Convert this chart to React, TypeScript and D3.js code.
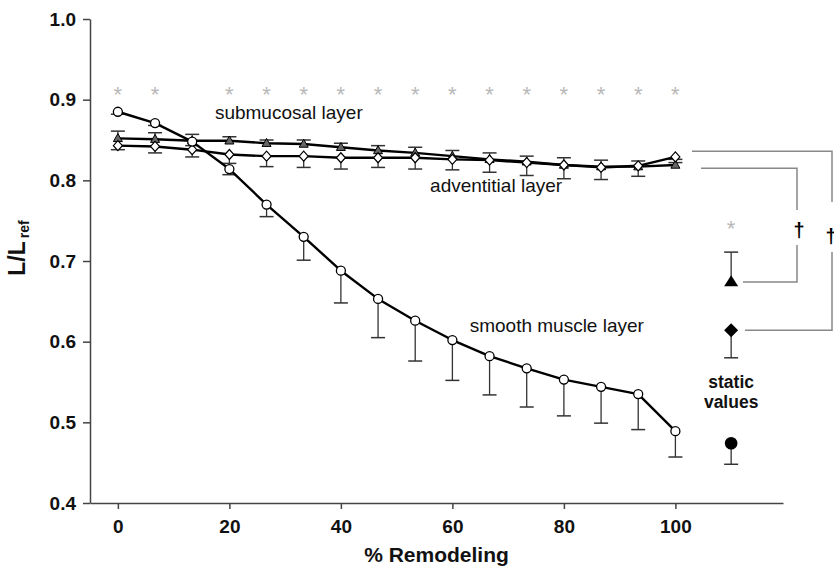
import * as d3 from 'd3';
import {useEffect, useRef} from "react";

// % remodeling steps
const remodeling = [0, 6.67, 13.33, 20, 26.67, 33.33, 40, 46.67, 53.33, 60, 66.67, 73.33, 80, 86.67, 93.33, 100];

const smoothMuscle = [0.885, 0.871, 0.848, 0.814, 0.770, 0.730, 0.688, 0.653, 0.626, 0.602, 0.582, 0.567, 0.553, 0.544, 0.535, 0.489];
const smoothMuscleErr = [0.003, 0.003, 0.005, 0.007, 0.015, 0.029, 0.040, 0.048, 0.050, 0.050, 0.048, 0.048, 0.045, 0.045, 0.044, 0.032];

const submucosal = [0.852, 0.851, 0.849, 0.849, 0.846, 0.845, 0.841, 0.837, 0.834, 0.830, 0.826, 0.823, 0.819, 0.817, 0.817, 0.819];
const submucosalErr = [0.009, 0.008, 0.008, 0.005, 0.004, 0.005, 0.005, 0.006, 0.007, 0.007, 0.008, 0.007, 0.009, 0.008, 0.007, 0.003];

const adventitial = [0.843, 0.842, 0.838, 0.832, 0.830, 0.830, 0.828, 0.828, 0.828, 0.826, 0.825, 0.822, 0.819, 0.816, 0.818, 0.829];
const adventitialErr = [0.005, 0.008, 0.009, 0.011, 0.013, 0.014, 0.014, 0.012, 0.014, 0.013, 0.015, 0.016, 0.017, 0.015, 0.013, 0.003];

// static values (drawn at x = 110)
const staticX = 110;
const staticSubmucosal = 0.674;
const staticSubmucosalErr = 0.037;
const staticAdventitial = 0.614;
const staticAdventitialErr = 0.034;
const staticSmooth = 0.474;
const staticSmoothErr = 0.026;

// significance markers
const starIndices = [0, 1, 3, 4, 5, 6, 7, 8, 9, 10, 11, 12, 13, 14, 15];
const starLevel = 0.912;
const staticStarLevel = 0.746;

const xTicks = [0, 20, 40, 60, 80, 100];
const yTicks = [0.4, 0.5, 0.6, 0.7, 0.8, 0.9, 1.0];

const FONT = "'Liberation Sans', Arial, sans-serif";

export default function App() {
    const svgRef = useRef<SVGSVGElement | null>(null);

    useEffect(() => {
        const W = 834, H = 570;
        const svg = d3.select(svgRef.current)
            .attr("width", W)
            .attr("height", H)
            .html("");

        const x = d3.scaleLinear().domain([-5, 119.3]).range([90, 783]);
        const y = d3.scaleLinear().domain([0.4, 1.0]).range([503, 19]);

        const axisColor = "#444";

        // y axis
        const gy = svg.append("g")
            .attr("transform", `translate(${x(-5)},0)`)
            .call(d3.axisLeft(y).tickValues(yTicks).tickFormat(d3.format(".1f"))
                .tickSize(7).tickSizeOuter(0).tickPadding(7));
        gy.selectAll("path, line").attr("stroke", axisColor).attr("stroke-width", 1.5);
        gy.selectAll("text").attr("font-family", FONT).attr("font-size", 19)
            .attr("font-weight", "bold").attr("fill", "#111");

        // x axis
        const gx = svg.append("g")
            .attr("transform", `translate(0,${y(0.4)})`)
            .call(d3.axisBottom(x).tickValues(xTicks).tickFormat(d3.format("d"))
                .tickSize(6).tickSizeOuter(0).tickPadding(10.5));
        gx.selectAll("path, line").attr("stroke", axisColor).attr("stroke-width", 1.5);
        gx.selectAll("text").attr("font-family", FONT).attr("font-size", 19)
            .attr("font-weight", "bold").attr("fill", "#111");

        // axis titles
        svg.append("text")
            .attr("x", (x(-5) + x(119.3)) / 2)
            .attr("y", 562)
            .attr("text-anchor", "middle")
            .attr("font-family", FONT).attr("font-size", 21).attr("font-weight", "bold")
            .attr("fill", "#111")
            .text("% Remodeling");

        const yt = svg.append("text")
            .attr("transform", `translate(25,248) rotate(-90)`)
            .attr("text-anchor", "middle")
            .attr("font-family", FONT).attr("font-weight", "bold").attr("fill", "#111");
        yt.append("tspan").attr("font-size", 23).text("L/L");
        yt.append("tspan").attr("font-size", 14).attr("dx", 3).attr("dy", 4).text("ref");

        const errColor = "#333";
        const cap = 7;
        const drawErr = (cx: number, from: number, to: number) => {
            svg.append("line")
                .attr("x1", x(cx)).attr("x2", x(cx))
                .attr("y1", y(from)).attr("y2", y(to))
                .attr("stroke", errColor).attr("stroke-width", 1.3);
            svg.append("line")
                .attr("x1", x(cx) - cap).attr("x2", x(cx) + cap)
                .attr("y1", y(to)).attr("y2", y(to))
                .attr("stroke", errColor).attr("stroke-width", 1.5);
        };

        // error bars: smooth muscle and adventitial downward, submucosal upward
        remodeling.forEach((r, i) => {
            drawErr(r, smoothMuscle[i], smoothMuscle[i] - smoothMuscleErr[i]);
            drawErr(r, adventitial[i], adventitial[i] - adventitialErr[i]);
            drawErr(r, submucosal[i], submucosal[i] + submucosalErr[i]);
        });

        const line = d3.line<number>()
            .x((_, i) => x(remodeling[i]))
            .y(d => y(d));

        [submucosal, adventitial, smoothMuscle].forEach(series => {
            svg.append("path")
                .attr("d", line(series))
                .attr("fill", "none")
                .attr("stroke", "#000")
                .attr("stroke-width", 2.4)
                .attr("stroke-linejoin", "round");
        });

        const triPath = (w: number, h: number) =>
            `M0,${-h * 0.6}L${w / 2},${h * 0.4}L${-w / 2},${h * 0.4}Z`;
        const diaPath = (w: number, h: number) =>
            `M0,${-h / 2}L${w / 2},0L0,${h / 2}L${-w / 2},0Z`;

        // markers
        svg.selectAll(".tri")
            .data(submucosal)
            .enter().append("path")
            .attr("transform", (d, i) => `translate(${x(remodeling[i])},${y(d)})`)
            .attr("d", triPath(9, 8))
            .attr("fill", "#666").attr("stroke", "#000").attr("stroke-width", 1);

        svg.selectAll(".dia")
            .data(adventitial)
            .enter().append("path")
            .attr("transform", (d, i) => `translate(${x(remodeling[i])},${y(d)})`)
            .attr("d", diaPath(9, 10))
            .attr("fill", "#fff").attr("stroke", "#000").attr("stroke-width", 1.2);

        svg.selectAll(".circ")
            .data(smoothMuscle)
            .enter().append("circle")
            .attr("cx", (_, i) => x(remodeling[i]))
            .attr("cy", d => y(d))
            .attr("r", 4.5)
            .attr("fill", "#fff").attr("stroke", "#000").attr("stroke-width", 1.3);

        // static values
        drawErr(staticX, staticSubmucosal, staticSubmucosal + staticSubmucosalErr);
        drawErr(staticX, staticAdventitial, staticAdventitial - staticAdventitialErr);
        drawErr(staticX, staticSmooth, staticSmooth - staticSmoothErr);

        svg.append("path")
            .attr("transform", `translate(${x(staticX)},${y(staticSubmucosal)})`)
            .attr("d", triPath(14, 11)).attr("fill", "#000");
        svg.append("path")
            .attr("transform", `translate(${x(staticX)},${y(staticAdventitial)})`)
            .attr("d", diaPath(14, 14)).attr("fill", "#000");
        svg.append("circle")
            .attr("cx", x(staticX)).attr("cy", y(staticSmooth)).attr("r", 6.3)
            .attr("fill", "#000");

        const sv = svg.append("text")
            .attr("text-anchor", "middle")
            .attr("font-family", FONT).attr("font-size", 17.5).attr("font-weight", "bold")
            .attr("fill", "#111");
        sv.append("tspan").attr("x", x(staticX)).attr("y", 388).text("static");
        sv.append("tspan").attr("x", x(staticX)).attr("y", 408).text("values");

        // asterisks
        const starColor = "#b8b8b8";
        starIndices.forEach(i => {
            svg.append("text")
                .attr("x", x(remodeling[i]))
                .attr("y", y(starLevel) + 12.5)
                .attr("text-anchor", "middle")
                .attr("font-family", FONT).attr("font-size", 22)
                .attr("fill", starColor)
                .text("*");
        });
        svg.append("text")
            .attr("x", x(staticX))
            .attr("y", y(staticStarLevel) + 12.5)
            .attr("text-anchor", "middle")
            .attr("font-family", FONT).attr("font-size", 22)
            .attr("fill", starColor)
            .text("*");

        // brackets
        const brColor = "#888";
        const bracket = (xTop: number, top: number, xBottom: number, bottom: number,
                         xV: number, gapTop: number, gapBottom: number) => {
            const p = d3.path();
            p.moveTo(xTop, top); p.lineTo(xV, top); p.lineTo(xV, gapTop);
            p.moveTo(xV, gapBottom); p.lineTo(xV, bottom); p.lineTo(xBottom, bottom);
            svg.append("path").attr("d", p.toString())
                .attr("fill", "none").attr("stroke", brColor).attr("stroke-width", 1.5);
        };
        bracket(701, y(0.815), 743, y(staticSubmucosal), 797, 210, 245);
        bracket(692, y(0.836), 745, y(staticAdventitial), 832, 202, 252);

        const dagger = (cx: number, cy: number) => {
            svg.append("text")
                .attr("x", cx).attr("y", cy + 7)
                .attr("text-anchor", "middle")
                .attr("font-family", FONT).attr("font-size", 20).attr("font-weight", "bold")
                .attr("fill", "#000")
                .text("\u2020");
        };
        dagger(799, 230);
        dagger(831, 236);

        // series labels
        const label = (lx: number, ly: number, t: string) => {
            svg.append("text")
                .attr("x", x(lx)).attr("y", y(ly))
                .attr("font-family", FONT).attr("font-size", 19)
                .attr("fill", "#111")
                .text(t);
        };
        label(17.4, 0.876, "submucosal layer");
        label(56, 0.785, "adventitial layer");
        label(63.1, 0.612, "smooth muscle layer");
    }, []);

    return <svg ref={svgRef} style={{position: "absolute", left: 0, top: 0, display: "block"}}></svg>;
}
